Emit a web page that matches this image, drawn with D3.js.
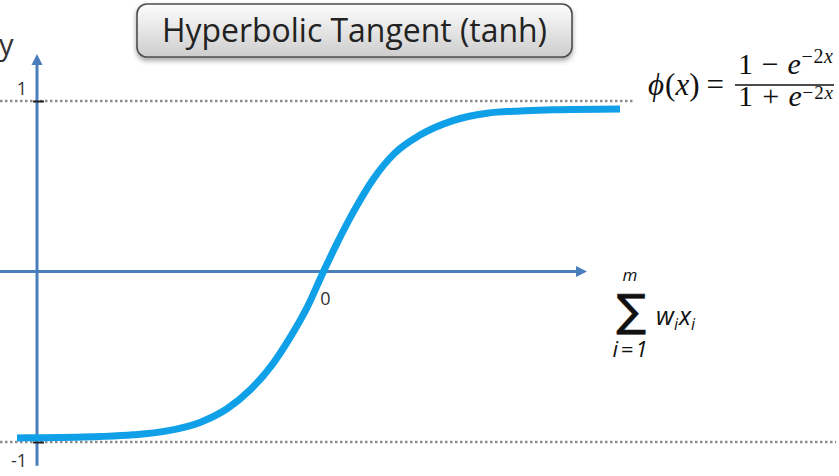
<!DOCTYPE html>
<html><head><meta charset="utf-8">
<script src="https://cdn.jsdelivr.net/npm/d3@7"></script>
<style>body{margin:0;background:#fff;} svg{display:block}</style>
</head><body><svg id="c" width="839" height="476"></svg>
<script>
// ---- data ----
const curveX = [-3.05,-2.82,-2.22,-1.89,-1.55,-1.22,-0.95,-0.72,-0.49,-0.32,-0.15,0.015,0.15,0.31,0.51,0.72,0.98,1.31,1.65,1.98,2.31,2.98];
const curveY = [-0.976,-0.975,-0.968,-0.958,-0.935,-0.885,-0.805,-0.695,-0.54,-0.388,-0.212,0,0.165,0.345,0.54,0.69,0.80,0.885,0.928,0.942,0.948,0.953];
const yTicks = [1, -1];
const yTickLabels = ["1", "-1"];
const xTicks = [0];
const xTickLabels = ["0"];
const titleText = "Hyperbolic Tangent (tanh)";
const yAxisLabel = "y";

// ---- layout ----
const svg = d3.select("#c");
const x = d3.scaleLinear().domain([-3.22, 2.65]).range([0, 587]);
const y = d3.scaleLinear().domain([-1, 1]).range([442, 101]);
const axisColor = "#4a7ebb";
const curveColor = "#0fa0e8";
const x0 = x(0), y0 = y(0);

const defs = svg.append("defs");
const grad = defs.append("linearGradient").attr("id","tg").attr("x1",0).attr("y1",0).attr("x2",0).attr("y2",1);
grad.append("stop").attr("offset","0%").attr("stop-color","#fdfdfd");
grad.append("stop").attr("offset","100%").attr("stop-color","#cdcdcd");
const f = defs.append("filter").attr("id","sh").attr("x","-10%").attr("y","-20%").attr("width","120%").attr("height","160%");
f.append("feDropShadow").attr("dx",0).attr("dy",3).attr("stdDeviation",2.5).attr("flood-color","#000").attr("flood-opacity",0.35);

// dotted reference lines at +1 and -1
svg.append("line").attr("x1",0).attr("x2",635).attr("y1",y(1)).attr("y2",y(1))
  .attr("stroke","#8c8c8c").attr("stroke-width",2.6).attr("stroke-dasharray","2.5,2.5");
svg.append("line").attr("x1",0).attr("x2",836).attr("y1",y(-1)).attr("y2",y(-1))
  .attr("stroke","#8c8c8c").attr("stroke-width",2.6).attr("stroke-dasharray","2.5,2.5");

// axes lines with arrows
function arrowHead(tx, ty, dir) {
  const L = 11, hw = 5.5;
  let pts;
  if (dir === "up") pts = [[tx,ty],[tx-hw,ty+L],[tx+hw,ty+L]];
  else pts = [[tx,ty],[tx-L,ty-hw],[tx-L,ty+hw]];
  svg.append("path").attr("d", d3.line()(pts) + "Z").attr("fill", axisColor);
}
const yAxisX = 37;
const yAxisBottom = y(-1.14), yAxisTop = y(1.275);
svg.append("line").attr("x1",yAxisX).attr("x2",yAxisX).attr("y1",yAxisBottom).attr("y2",yAxisTop+8)
  .attr("stroke",axisColor).attr("stroke-width",3);
arrowHead(yAxisX, yAxisTop, "up");
svg.append("line").attr("x1",x.range()[0]).attr("x2",x.range()[1]-8).attr("y1",y0).attr("y2",y0)
  .attr("stroke",axisColor).attr("stroke-width",3);
arrowHead(x.range()[1], y0, "right");

// y ticks via d3 axis
const yAxis = d3.axisLeft(y).tickValues(yTicks).tickSize(0).tickFormat((d,i)=>yTickLabels[i]);
const gy = svg.append("g").attr("transform",`translate(${yAxisX},0)`).call(yAxis);
gy.select(".domain").remove();
gy.selectAll(".tick line").remove();
gy.selectAll(".tick").append("line").attr("x1",-4).attr("x2",7).attr("stroke","#222").attr("stroke-width",2);
gy.selectAll(".tick text")
  .attr("x", -10).attr("dy", d => d > 0 ? "-0.35em" : "1.35em")
  .attr("fill","#333").attr("font-family","'Open Sans', sans-serif").attr("font-size",18);

// x ticks via d3 axis
const xAxis = d3.axisBottom(x).tickValues(xTicks).tickSize(0).tickFormat((d,i)=>xTickLabels[i]);
const gx = svg.append("g").attr("transform",`translate(0,${y0})`).call(xAxis);
gx.select(".domain").remove();
gx.selectAll(".tick line").remove();
gx.selectAll(".tick").append("line").attr("y1",1).attr("y2",5).attr("stroke","#222").attr("stroke-width",1.5);
gx.selectAll(".tick text").attr("x",3).attr("y",21)
  .attr("fill","#333").attr("font-family","'Open Sans', sans-serif").attr("font-size",18);

// curve
const pts = curveX.map((v,i)=>[v, curveY[i]]);
svg.append("path").datum(pts)
  .attr("d", d3.line().x(d=>x(d[0])).y(d=>y(d[1])).curve(d3.curveMonotoneX))
  .attr("fill","none").attr("stroke",curveColor).attr("stroke-width",7);

// y label
svg.append("text").attr("x",-1).attr("y",55).text(yAxisLabel)
  .attr("font-family","'Open Sans', sans-serif").attr("font-size",29).attr("fill","#333");

// title box
svg.append("rect").attr("x",137).attr("y",4).attr("width",435).attr("height",53).attr("rx",10)
  .attr("fill","url(#tg)").attr("stroke","#4d4d4d").attr("stroke-width",1.6).attr("filter","url(#sh)");
svg.append("text").attr("x",354.5).attr("y",42).attr("text-anchor","middle")
  .attr("font-family","'Open Sans', sans-serif").attr("font-size",33).attr("fill","#222")
  .attr("textLength",385).attr("lengthAdjust","spacingAndGlyphs").text(titleText);

// formula phi(x) = (1 - e^-2x)/(1 + e^-2x)
const mf = "'Liberation Serif', 'DejaVu Serif', serif";
const t1 = svg.append("text").attr("x",648).attr("y",95).attr("font-family",mf).attr("font-size",31).attr("fill","#111");
t1.append("tspan").attr("font-style","italic").text("ϕ");
t1.append("tspan").attr("dx",1).text("(");
t1.append("tspan").attr("font-style","italic").text("x");
t1.append("tspan").text(")");
t1.append("tspan").attr("dx",7).text("=");
svg.append("line").attr("x1",735).attr("x2",834).attr("y1",85).attr("y2",85).attr("stroke","#111").attr("stroke-width",1.7);
function fracPart(yb, op, sup, supSize) {
  const t = svg.append("text").attr("x",738).attr("y",yb).attr("font-family",mf).attr("font-size",30).attr("fill","#111")
    .attr("textLength",95).attr("lengthAdjust","spacing");
  t.append("tspan").text("1 " + op + " ");
  t.append("tspan").attr("font-style","italic").text("e");
  t.append("tspan").attr("dy",sup).attr("font-size",supSize).text("−2");
  t.append("tspan").attr("font-size",supSize).attr("font-style","italic").text("x");
}
fracPart(74, "−", -11, 20);
fracPart(106, "+", -7, 19);

// summation
const sf = "'Open Sans', 'DejaVu Sans', sans-serif";
svg.append("text").attr("x",631).attr("y",326).attr("text-anchor","middle")
  .attr("font-family","'DejaVu Sans', sans-serif").attr("font-size",44).attr("fill","#111")
  .attr("stroke","#111").attr("stroke-width",0.6).text("∑");
svg.append("text").attr("x",630).attr("y",281).attr("text-anchor","middle")
  .attr("font-family",sf).attr("font-style","italic").attr("font-size",17).attr("fill","#111").text("m");
svg.append("text").attr("x",630).attr("y",357).attr("text-anchor","middle")
  .attr("font-family",sf).attr("font-style","italic").attr("font-size",22).attr("fill","#111")
  .attr("textLength",35).attr("lengthAdjust","spacing").text("i=1");
const wx = svg.append("text").attr("x",656).attr("y",325).attr("font-family",sf).attr("font-style","italic").attr("font-size",25).attr("fill","#111");
wx.append("tspan").text("w");
wx.append("tspan").attr("dy",5).attr("font-size",16).text("i");
wx.append("tspan").attr("dy",-5).attr("dx",1).text("x");
wx.append("tspan").attr("dy",5).attr("font-size",16).text("i");
</script></body></html>
